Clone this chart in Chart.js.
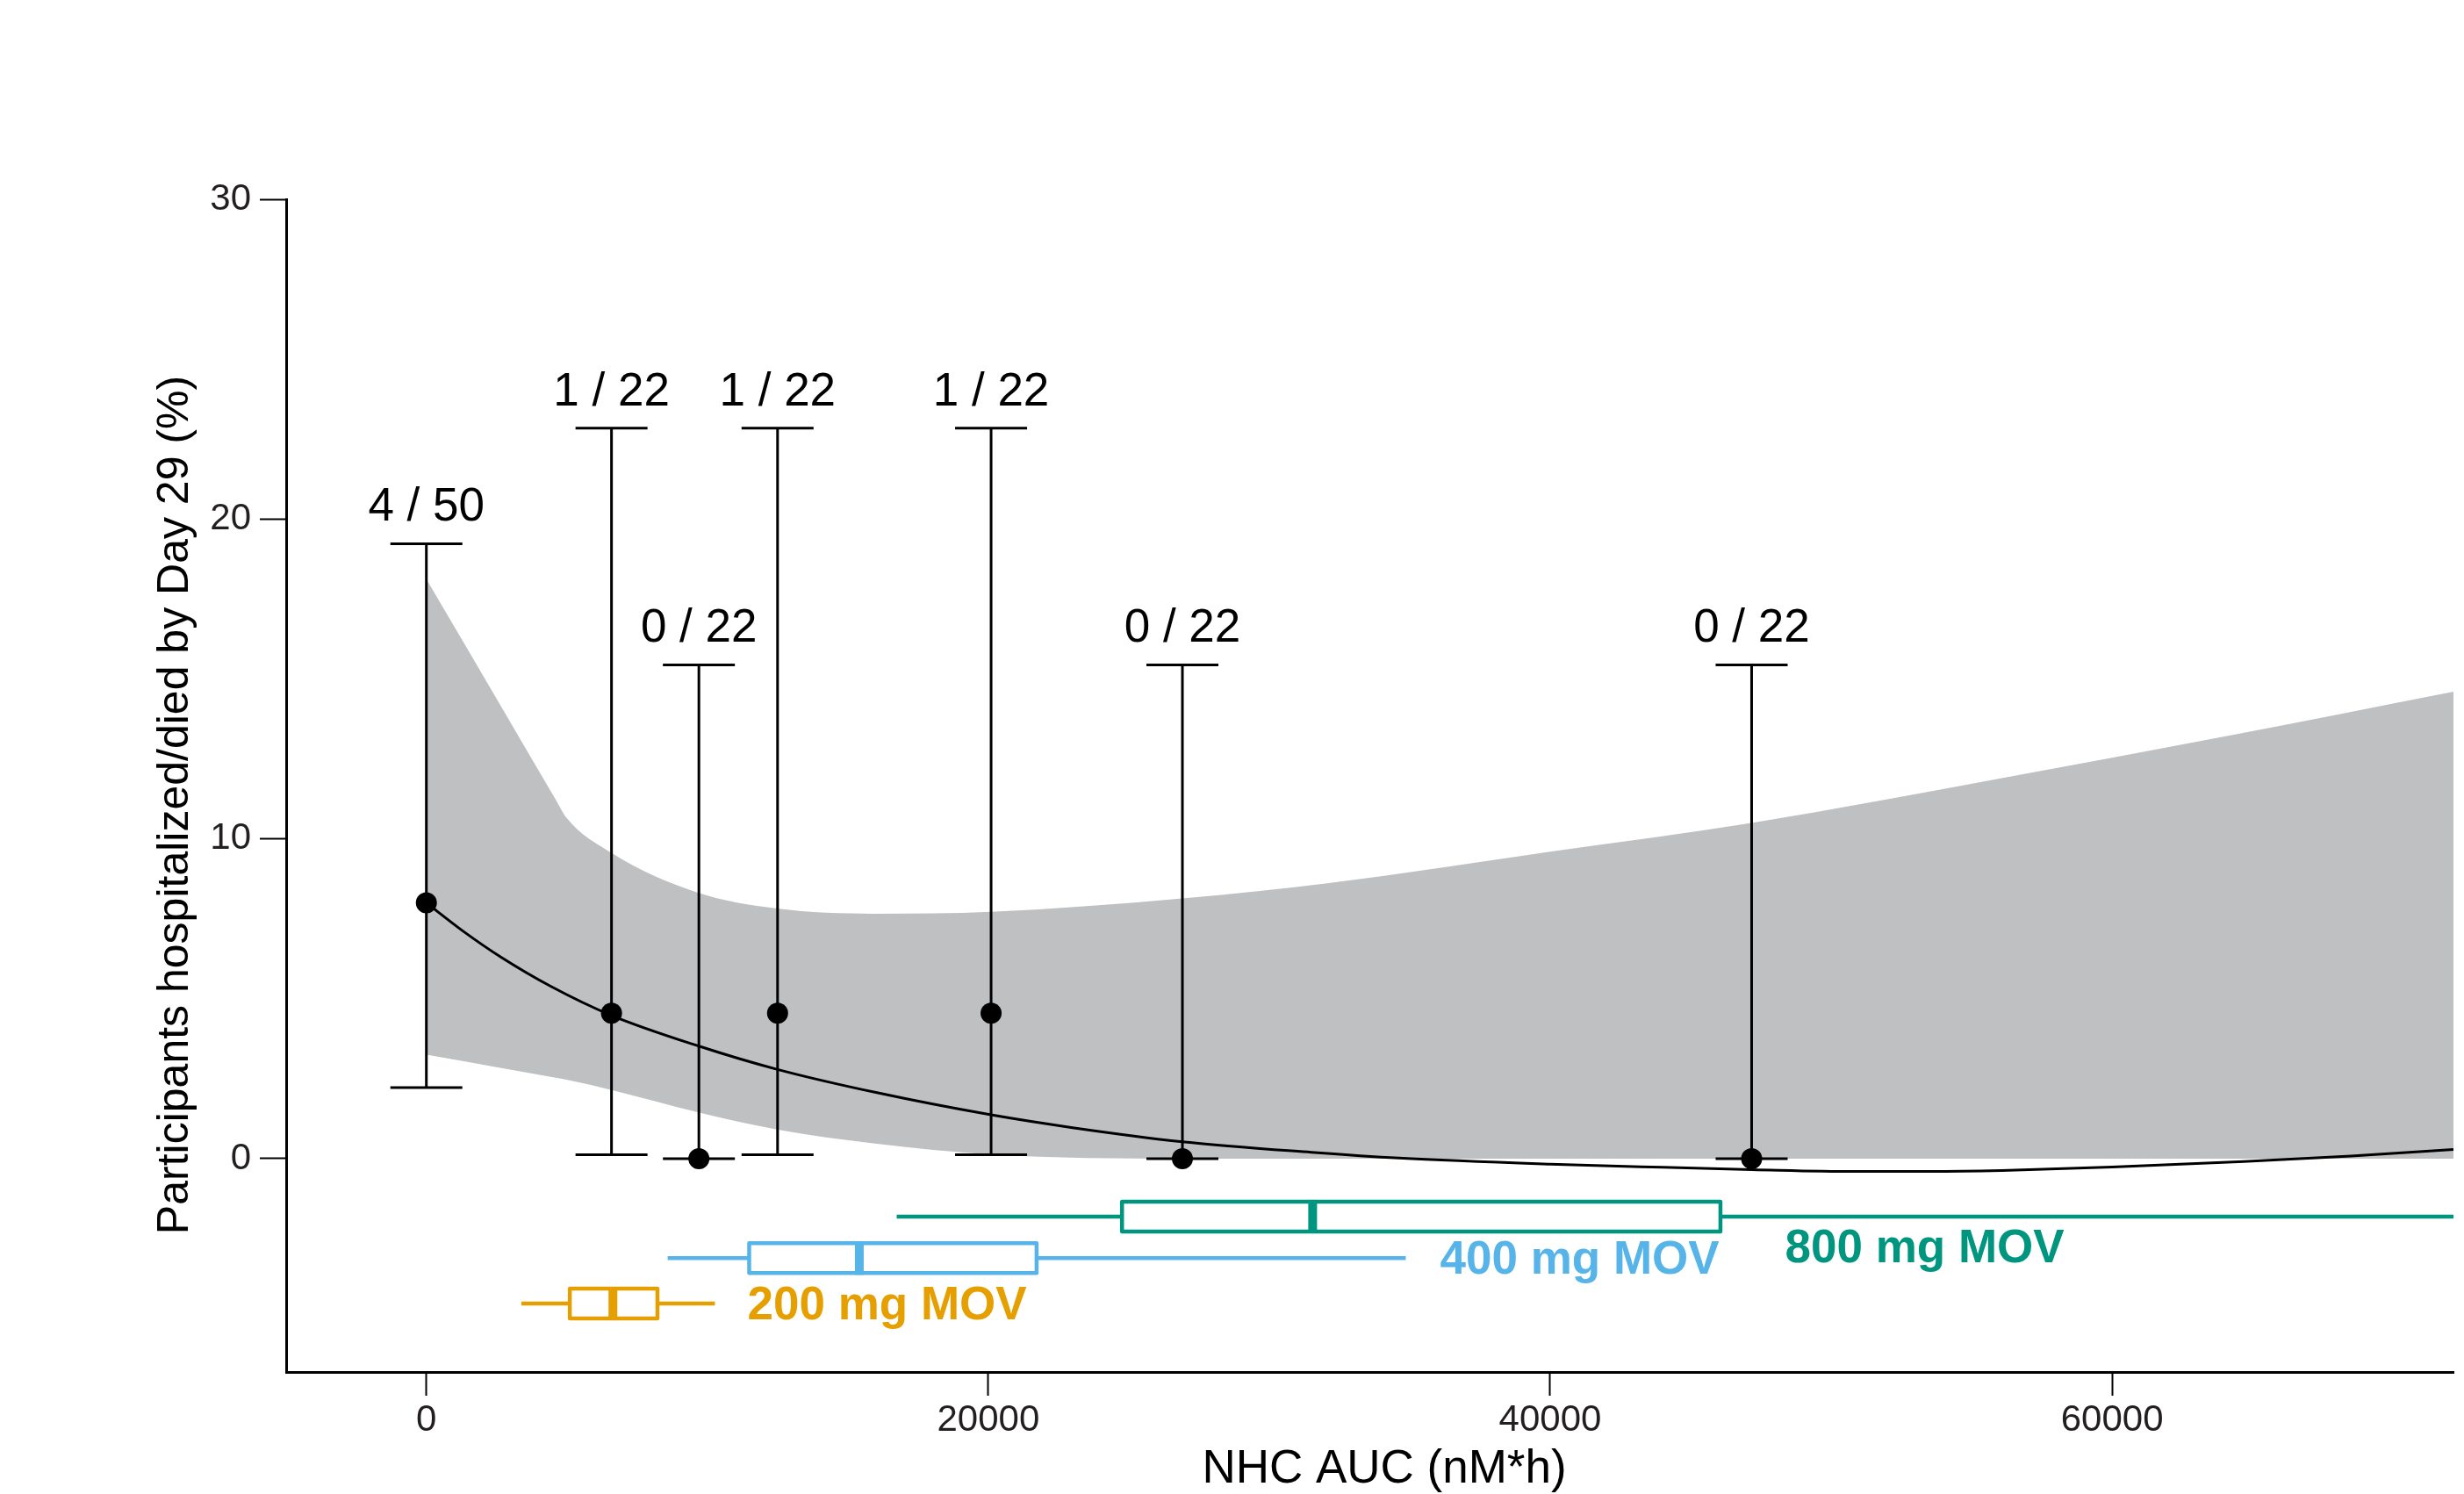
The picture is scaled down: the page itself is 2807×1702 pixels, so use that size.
<!DOCTYPE html>
<html>
<head>
<meta charset="utf-8">
<script src="https://cdn.jsdelivr.net/npm/chart.js@4.4.0/dist/chart.umd.min.js"></script>
<style>
    html, body { margin: 0; padding: 0; background: #fff; }
    #wrap { width: 2807px; height: 1702px; position: relative; }
</style>
</head>
<body>
<div id="wrap"><canvas id="myChart"></canvas></div>
<script>
// observed rate per exposure group, with 95% CI
const obsAuc = [0, 6590, 9700, 12500, 20100, 26910, 47170];
const obsPct = [8.0, 4.55, 0, 4.55, 4.55, 0, 0];
const ciLow = [2.22, 0.12, 0, 0.12, 0.12, 0, 0];
const ciHigh = [19.23, 22.84, 15.44, 22.84, 22.84, 15.44, 15.44];
const countLabels = ['4 / 50', '1 / 22', '0 / 22', '1 / 22', '1 / 22', '0 / 22', '0 / 22'];

// model fit line
const fitAuc = [0, 1300, 2660, 4450, 6590, 9700, 12500, 16000, 20100, 23000, 26910, 31500, 34620, 40000, 44000, 47180, 50800, 53500, 56070, 60000, 64680, 68500, 72150];
const fitPct = [8.0, 7.12, 6.3, 5.38, 4.48, 3.52, 2.79, 2.07, 1.37, 0.97, 0.53, 0.2, 0.02, -0.17, -0.27, -0.34, -0.40, -0.40, -0.37, -0.26, -0.09, 0.08, 0.29];

// confidence band
const bandAuc = [0, 2500, 4600, 4984, 6590, 9620, 12480, 15960, 20100, 26910, 32130, 40000, 47170, 56070, 64000, 72150];
const bandUpper = [18.12, 14.38, 11.23, 10.66, 9.56, 8.33, 7.82, 7.66, 7.72, 8.14, 8.62, 9.6, 10.5, 11.9, 13.2, 14.6];
const bandLower = [3.25, 2.86, 2.53, 2.47, 2.15, 1.46, 0.91, 0.47, 0.13, 0, 0, 0, 0, 0, 0, 0];

// exposure boxplots by dose
const doseNames = ['200 mg MOV', '400 mg MOV', '800 mg MOV'];
const whiskerLow = [3380, 8590, 16740];
const q1 = [5105, 11490, 24760];
const median = [6640, 15410, 31545];
const q3 = [8225, 21720, 46060];
const whiskerHigh = [10270, 34860, 80000];
const boxRow = [-4.53, -3.11, -1.81];

const xTicks = [0, 20000, 40000, 60000];
const yTicks = [0, 10, 20, 30];

const xTitle = 'NHC AUC (nM*h)';
const yTitle = 'Participants hospitalized/died by Day 29 (%)';

const doseColors = ['#E69F00', '#56B4E9', '#00957f'];
// where the dose names sit (data units: left edge, baseline)
const doseLabelPos = [[11430, -5.02], [36080, -3.59], [48360, -3.23]];

const FONT = '"Liberation Sans", Arial, Helvetica, sans-serif';

const overlay = {
    id: 'overlay',
    afterDatasetsDraw(chart) {
        const ctx = chart.ctx;
        const xs = chart.scales.x, ys = chart.scales.y;
        const area = chart.chartArea;
        ctx.save();
        ctx.beginPath();
        ctx.rect(area.left, 0, area.right - area.left, area.bottom);
        ctx.clip();

        // error bars + n labels
        ctx.strokeStyle = '#000';
        ctx.lineWidth = 3;
        ctx.fillStyle = '#000';
        ctx.font = '53px ' + FONT;
        ctx.textAlign = 'center';
        ctx.textBaseline = 'alphabetic';
        for (let i = 0; i < obsAuc.length; i++) {
            const px = xs.getPixelForValue(obsAuc[i]);
            const top = ys.getPixelForValue(ciHigh[i]);
            const bot = ys.getPixelForValue(ciLow[i]);
            ctx.beginPath();
            ctx.moveTo(px, top); ctx.lineTo(px, bot);
            ctx.moveTo(px - 41, top); ctx.lineTo(px + 41, top);
            ctx.moveTo(px - 41, bot); ctx.lineTo(px + 41, bot);
            ctx.stroke();
            ctx.fillText(countLabels[i], px, top - 26);
        }

        // boxplots
        ctx.lineJoin = 'round';
        const h = 34;
        for (let k = 0; k < doseNames.length; k++) {
            const yc = ys.getPixelForValue(boxRow[k]);
            const wl = xs.getPixelForValue(whiskerLow[k]);
            const wh = xs.getPixelForValue(whiskerHigh[k]);
            const b1 = xs.getPixelForValue(q1[k]);
            const b3 = xs.getPixelForValue(q3[k]);
            const md = xs.getPixelForValue(median[k]);
            ctx.strokeStyle = doseColors[k];
            ctx.lineWidth = 4.5;
            ctx.beginPath();
            ctx.moveTo(wl, yc); ctx.lineTo(b1, yc);
            ctx.moveTo(b3, yc); ctx.lineTo(wh, yc);
            ctx.stroke();
            ctx.fillStyle = '#fff';
            ctx.fillRect(b1, yc - h / 2, b3 - b1, h);
            ctx.strokeRect(b1, yc - h / 2, b3 - b1, h);
            ctx.lineWidth = 10;
            ctx.beginPath();
            ctx.moveTo(md, yc - h / 2 - 2); ctx.lineTo(md, yc + h / 2 + 2);
            ctx.stroke();

            ctx.fillStyle = doseColors[k];
            ctx.font = 'bold 53px ' + FONT;
            ctx.textAlign = 'left';
            ctx.fillText(doseNames[k], xs.getPixelForValue(doseLabelPos[k][0]), ys.getPixelForValue(doseLabelPos[k][1]));
        }
        ctx.restore();
    },
    afterDraw(chart) {
        // axis titles, placed as in the original (not centred on the plot)
        const ctx = chart.ctx;
        ctx.save();
        ctx.fillStyle = '#000';
        ctx.textAlign = 'center';

        ctx.font = '53px ' + FONT;
        ctx.textBaseline = 'alphabetic';
        ctx.fillText(xTitle, 1577, 1689);

        ctx.translate(200, 917);
        ctx.rotate(-Math.PI / 2);
        ctx.font = '50px ' + FONT;
        ctx.textBaseline = 'middle';
        ctx.fillText(yTitle, 0, 0);
        ctx.restore();
    }
};

const toXY = (xa, ya) => xa.map((x, i) => ({x: x, y: ya[i]}));

const config = {
    type: 'line',
    data: {
        datasets: [{
            label: 'Observed',
            data: toXY(obsAuc, obsPct),
            showLine: false,
            pointRadius: 12,
            pointBackgroundColor: '#000',
            pointBorderWidth: 0,
            order: 1
        }, {
            label: 'Fit',
            data: toXY(fitAuc, fitPct),
            borderColor: '#000',
            borderWidth: 3,
            pointRadius: 0,
            cubicInterpolationMode: 'monotone',
            fill: false,
            order: 2
        }, {
            label: 'Band lower',
            data: toXY(bandAuc, bandLower),
            borderWidth: 0,
            borderColor: 'rgba(0,0,0,0)',
            pointRadius: 0,
            cubicInterpolationMode: 'monotone',
            fill: false,
            order: 4
        }, {
            label: 'Band upper',
            data: toXY(bandAuc, bandUpper),
            borderWidth: 0,
            borderColor: 'rgba(0,0,0,0)',
            backgroundColor: '#bfc0c2',
            pointRadius: 0,
            cubicInterpolationMode: 'monotone',
            fill: 2,
            order: 3
        }]
    },
    options: {
        responsive: true,
        maintainAspectRatio: false,
        animation: false,
        layout: { padding: { top: 227, right: 0, bottom: 0, left: 0 } },
        plugins: {
            legend: { display: false },
            tooltip: { enabled: false }
        },
        scales: {
            x: {
                type: 'linear',
                min: -4990,
                max: 72150,
                afterBuildTicks: s => { s.ticks = xTicks.map(v => ({ value: v })); },
                afterFit: s => { s.height = 139; },
                grid: { drawOnChartArea: false, drawTicks: true, tickLength: 27, tickWidth: 2, tickColor: '#000' },
                border: { display: true, color: '#000', width: 3 },
                ticks: {
                    padding: 3,
                    color: '#231f20',
                    autoSkip: false,
                    maxRotation: 0,
                    font: { family: FONT, size: 42 },
                    callback: v => String(v)
                },
                title: { display: false }
            },
            y: {
                min: -6.67,
                max: 30,
                afterBuildTicks: s => { s.ticks = yTicks.map(v => ({ value: v })); },
                afterFit: s => { s.width = 326; },
                grid: { drawOnChartArea: false, drawTicks: true, tickLength: 30, tickWidth: 2, tickColor: '#000' },
                border: { display: true, color: '#000', width: 3 },
                ticks: {
                    padding: 10,
                    color: '#231f20',
                    autoSkip: false,
                    font: { family: FONT, size: 42 },
                    callback: v => String(v)
                },
                title: { display: false }
            }
        }
    },
    plugins: [overlay]
};

const myChart = new Chart(document.getElementById('myChart'), config);
</script>
</body>
</html>
